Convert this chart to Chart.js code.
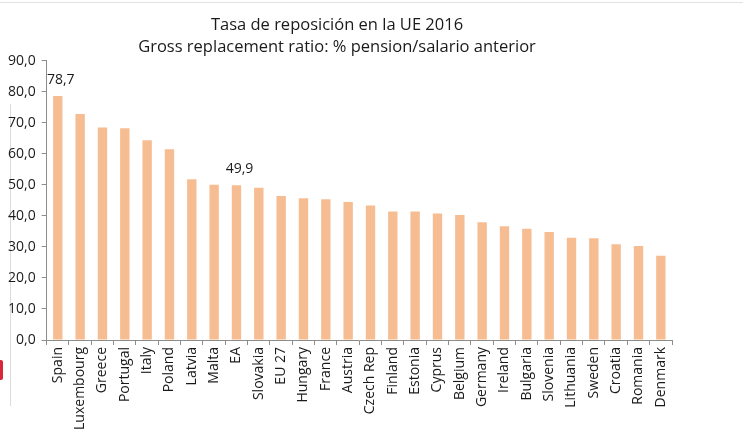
<!DOCTYPE html>
<html>
<head>
<meta charset="utf-8">
<script src="https://cdn.jsdelivr.net/npm/chart.js@4"></script>
<style>
  html, body { margin: 0; padding: 0; background: #fff; }
  body { width: 743px; height: 430px; overflow: hidden; position: relative; }
  #wrap { position: absolute; left: 0; top: 0; width: 728px; height: 430px; }
  /* bordes del recorte original */
  .edgeTop { position: absolute; left: 0; top: 2px; width: 743px; height: 1px; background: #e3e3e3; }
  .edgeLeft { position: absolute; left: 10px; top: 104px; width: 1px; height: 302px; background: #dcdcdc; }
  .edgeRed { position: absolute; left: 0; top: 360px; width: 3px; height: 20px; background: #d9263a; border-radius: 0 2px 2px 0; }
</style>
</head>
<body>
<div class="edgeTop"></div>
<div class="edgeLeft"></div>
<div class="edgeRed"></div>
<div id="wrap"><canvas id="chart" width="728" height="430"></canvas></div>
<script>
// datos
const paises = [
  "Spain", "Luxembourg", "Greece", "Portugal", "Italy", "Poland", "Latvia",
  "Malta", "EA", "Slovakia", "EU 27", "Hungary", "France", "Austria",
  "Czech Rep", "Finland", "Estonia", "Cyprus", "Belgium", "Germany",
  "Ireland", "Bulgaria", "Slovenia", "Lithuania", "Sweden", "Croatia",
  "Romania", "Denmark"
];
const tasaReposicion = [
  78.7, 72.9, 68.5, 68.3, 64.4, 61.5, 51.8, 50.1, 49.9, 49.1,
  46.4, 45.7, 45.4, 44.5, 43.4, 41.4, 41.4, 40.8, 40.3, 38.0,
  36.7, 35.9, 34.8, 33.0, 32.8, 30.9, 30.3, 27.2
];
const etiquetasVisibles = ["Spain", "EA"]; // solo estos llevan valor encima
const ticksY = [0, 10, 20, 30, 40, 50, 60, 70, 80, 90];
const titulo = ["Tasa de reposición en la UE 2016", "Gross replacement ratio: % pension/salario anterior"];

const colorBarra = "#F7BD92";
const colorEje = "#8c8c8c";
const colorTexto = "#1a1a1a";
const fuente = "'Open Sans', sans-serif";

// formato con coma decimal
function fmt(v) {
  return v.toFixed(1).replace(".", ",");
}

// plugin para los valores encima de Spain y EA
const etiquetasPlugin = {
  id: "etiquetasValor",
  afterDatasetsDraw(chart) {
    const ctx = chart.ctx;
    const meta = chart.getDatasetMeta(0);
    ctx.save();
    ctx.font = "14px " + fuente;
    ctx.fillStyle = colorTexto;
    ctx.textAlign = "center";
    ctx.textBaseline = "bottom";
    meta.data.forEach((bar, i) => {
      if (etiquetasVisibles.includes(paises[i])) {
        ctx.fillText(fmt(tasaReposicion[i]), bar.x + 3, bar.y - 9);
      }
    });
    ctx.restore();
  }
};

const ctx = document.getElementById("chart").getContext("2d");

new Chart(ctx, {
  type: "bar",
  data: {
    labels: paises,
    datasets: [
      {
        data: tasaReposicion,
        backgroundColor: colorBarra,
        barPercentage: 0.42,
        categoryPercentage: 1.0,
      },
    ],
  },
  options: {
    responsive: false,
    animation: false,
    layout: {
      padding: { left: 2, right: 56, top: 0, bottom: 0 },
    },
    plugins: {
      legend: { display: false },
      tooltip: { enabled: false },
      title: {
        display: true,
        text: titulo,
        color: colorTexto,
        font: { family: fuente, size: 16.5, weight: "normal", lineHeight: 1.33 },
        padding: { top: 14, bottom: 3 },
      },
    },
    scales: {
      x: {
        grid: {
          display: true,
          offset: true,
          drawOnChartArea: false,
          drawTicks: true,
          tickLength: 5,
          color: colorEje,
        },
        border: { color: colorEje },
        ticks: {
          autoSkip: false,
          minRotation: 90,
          maxRotation: 90,
          color: colorTexto,
          padding: 2,
          font: { family: fuente, size: 14 },
        },
        afterFit(scale) {
          scale.height = 90;
        },
      },
      y: {
        min: 0,
        max: 90,
        afterBuildTicks(scale) {
          scale.ticks = ticksY.map((v) => ({ value: v }));
        },
        grid: {
          drawOnChartArea: false,
          drawTicks: true,
          tickLength: 5,
          color: colorEje,
        },
        border: { color: colorEje },
        ticks: {
          color: colorTexto,
          padding: 6,
          font: { family: fuente, size: 14 },
          callback: (v) => fmt(v),
        },
      },
    },
  },
  plugins: [etiquetasPlugin],
});
</script>
</body>
</html>
